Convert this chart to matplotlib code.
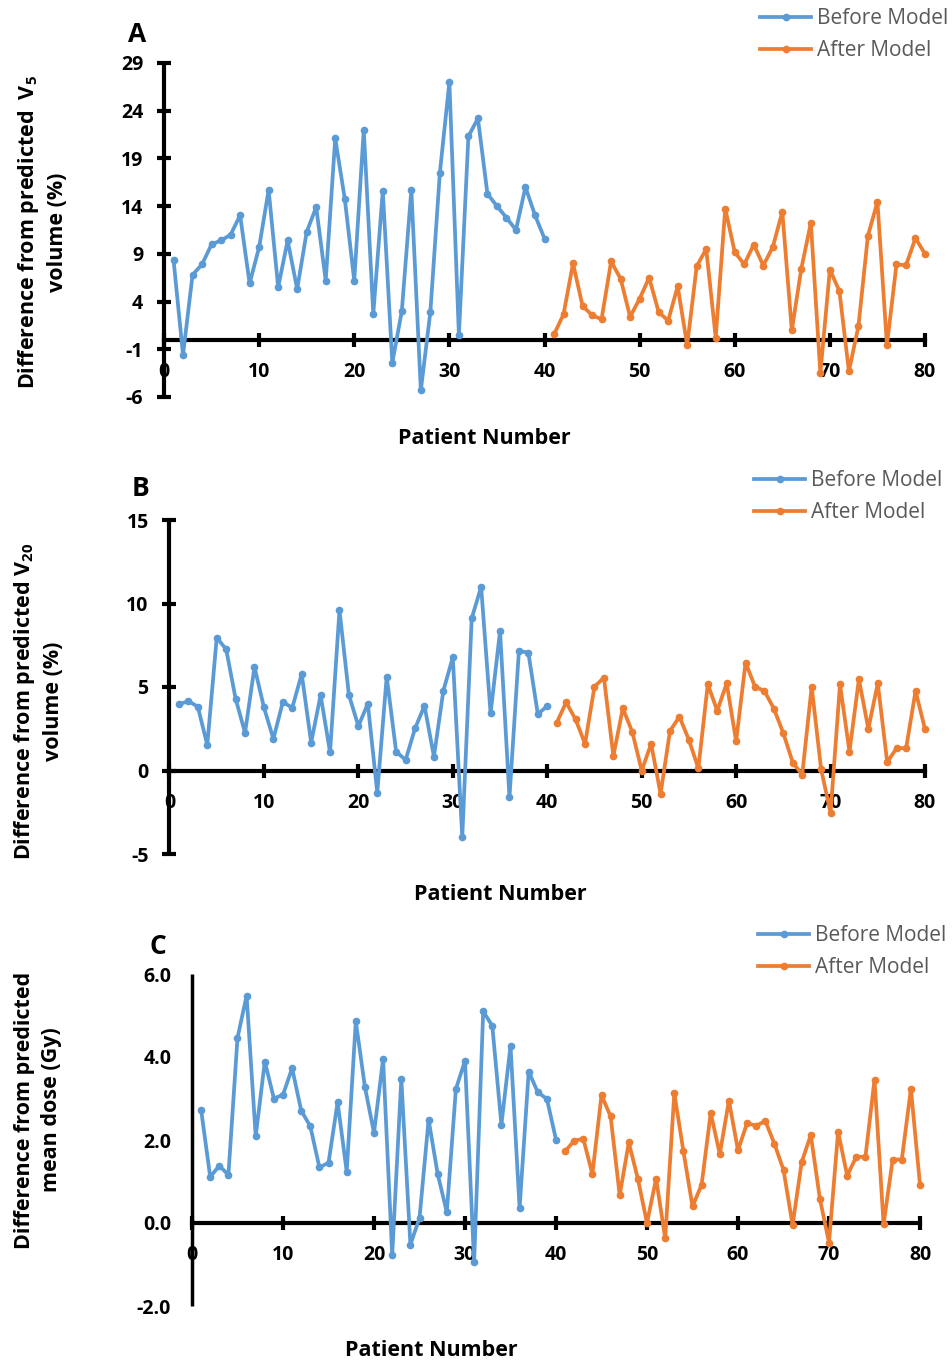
import matplotlib
matplotlib.use("Agg")
import matplotlib.pyplot as plt
from matplotlib.lines import Line2D

plt.rcParams["font.family"] = ["Open Sans", "DejaVu Sans"]
plt.rcParams["axes.unicode_minus"] = False
plt.rcParams["mathtext.fontset"] = "custom"
plt.rcParams["mathtext.rm"] = "Open Sans:bold"
plt.rcParams["mathtext.it"] = "Open Sans:bold"
plt.rcParams["mathtext.bf"] = "Open Sans:bold"

# Patient numbers
before_x = list(range(1, 41))
after_x = list(range(41, 81))

# Panel A: difference from predicted V5 volume (%)
v5_before = [8.4, -1.6, 6.8, 7.9, 10.0, 10.4, 11.0, 13.05, 5.9, 9.7,
             15.7, 5.5, 10.4, 5.3, 11.3, 13.9, 6.2, 21.1, 14.8, 6.2,
             22.0, 2.7, 15.6, -2.4, 3.0, 15.7, -5.3, 2.9, 17.5, 27.0,
             0.47, 21.3, 23.2, 15.3, 14.0, 12.8, 11.5, 16.0, 13.05, 10.6]
v5_after = [0.55, 2.67, 8.0, 3.55, 2.57, 2.15, 8.2, 6.4, 2.4, 4.3,
            6.5, 2.9, 2.0, 5.6, -0.58, 7.7, 9.5, 0.23, 13.75, 9.17,
            7.9, 9.98, 7.77, 9.73, 13.4, 1.0, 7.46, 12.25, -3.5, 7.35,
            5.1, -3.3, 1.4, 10.9, 14.45, -0.58, 7.9, 7.8, 10.65, 9.0]

# Panel B: difference from predicted V20 volume (%)
v20_before = [3.96, 4.16, 3.82, 1.53, 7.95, 7.26, 4.3, 2.26, 6.2, 3.78,
              1.89, 4.1, 3.76, 5.78, 1.67, 4.52, 1.09, 9.6, 4.52, 2.66,
              4.0, -1.33, 5.62, 1.13, 0.63, 2.52, 3.88, 0.83, 4.78, 6.78,
              -4.0, 9.11, 11.0, 3.42, 8.35, -1.6, 7.17, 7.05, 3.38, 3.86]
v20_after = [2.86, 4.08, 3.06, 1.6, 5.02, 5.56, 0.87, 3.72, 2.32, 0.0,
             1.59, -1.39, 2.37, 3.22, 1.83, 0.13, 5.16, 3.58, 5.22, 1.75,
             6.46, 5.02, 4.76, 3.7, 2.23, 0.47, -0.25, 5.02, 0.07, -2.53,
             5.16, 1.13, 5.46, 2.5, 5.22, 0.49, 1.35, 1.33, 4.76, 2.48]

# Panel C: difference from predicted mean dose (Gy)
md_before = [2.73, 1.11, 1.38, 1.16, 4.46, 5.48, 2.09, 3.89, 3.0, 3.09,
             3.73, 2.71, 2.33, 1.34, 1.45, 2.91, 1.24, 4.86, 3.28, 2.17,
             3.95, -0.77, 3.47, -0.52, 0.12, 2.49, 1.18, 0.26, 3.23, 3.91,
             -0.95, 5.1, 4.75, 2.37, 4.27, 0.36, 3.65, 3.15, 2.99, 2.01]
md_after = [1.73, 1.98, 2.03, 1.18, 3.08, 2.57, 0.67, 1.94, 1.06, 0.0,
            1.07, -0.37, 3.13, 1.73, 0.4, 0.92, 2.65, 1.66, 2.95, 1.75,
            2.41, 2.34, 2.46, 1.91, 1.28, -0.05, 1.47, 2.12, 0.58, -0.47,
            2.2, 1.14, 1.6, 1.59, 3.45, -0.03, 1.53, 1.53, 3.23, 0.92]

x_ticks = [0, 10, 20, 30, 40, 50, 60, 70, 80]
yticks_a = [-6, -1, 4, 9, 14, 19, 24, 29]
yticks_b = [-5, 0, 5, 10, 15]
yticks_c = [-2.0, 0.0, 2.0, 4.0, 6.0]
ytick_labels_c = ["-2.0", "0.0", "2.0", "4.0", "6.0"]

BLUE = "#5B9BD5"
ORANGE = "#ED7D31"
LEGEND_GRAY = "#595959"

TICK_FS = 14
LABEL_FS = 15.5
LETTER_FS = 19
LEGEND_FS = 15

W, H = 953, 1362
fig = plt.figure(figsize=(W / 100, H / 100), dpi=100)


def px_axes(left, right, top, bottom):
    return fig.add_axes([left / W, 1 - bottom / H, (right - left) / W, (bottom - top) / H])


def style_axes(ax, ylim, yticks, yticklabels=None, yticks_marks=True, left_lw=3.0):
    ax.set_xlim(0, 80)
    ax.set_ylim(*ylim)
    for s in ("top", "right"):
        ax.spines[s].set_visible(False)
    ax.spines["bottom"].set_position(("data", 0))
    ax.spines["bottom"].set_linewidth(3.0)
    ax.spines["left"].set_linewidth(left_lw)
    ax.spines["left"].set_capstyle("butt")
    ax.set_xticks(x_ticks)
    ax.set_xticklabels([str(t) for t in x_ticks])
    ax.set_yticks(yticks)
    if yticklabels is not None:
        ax.set_yticklabels(yticklabels)
    ax.tick_params(axis="x", direction="inout", length=10, width=3.0,
                   pad=11, labelsize=TICK_FS)
    ax.tick_params(axis="y", direction="inout", length=10 if yticks_marks else 0,
                   width=3.0, pad=10 if yticks_marks else 15, labelsize=TICK_FS)
    for lab in ax.get_xticklabels() + ax.get_yticklabels():
        lab.set_fontweight("bold")
    ax.patch.set_visible(False)


def plot_series(ax, yb, ya):
    ax.plot(before_x, yb, color=BLUE, lw=2.7, marker="o", ms=4.5, clip_on=False, zorder=3)
    ax.plot(after_x, ya, color=ORANGE, lw=2.7, marker="o", ms=4.5, clip_on=False, zorder=3)


def add_legend(x_px, y_px):
    handles = [Line2D([], [], color=BLUE, lw=2.7, marker="o", ms=4.5),
               Line2D([], [], color=ORANGE, lw=2.7, marker="o", ms=4.5)]
    leg = fig.legend(handles, ["Before Model", "After Model"], loc="upper left",
                     bbox_to_anchor=(x_px / W, 1 - y_px / H), frameon=False,
                     fontsize=LEGEND_FS, handlelength=2.45, handletextpad=0.3,
                     labelspacing=0.55, borderpad=0, borderaxespad=0,
                     labelcolor=LEGEND_GRAY)
    return leg


def panel_text(x, y, s, size, **kw):
    fig.text(x / W, 1 - y / H, s, fontsize=size, fontweight="bold",
             ha="center", va="center", **kw)


# ---- Panel A ----
axA = px_axes(164, 925, 63, 397)
style_axes(axA, (-6, 29), yticks_a)
plot_series(axA, v5_before, v5_after)
panel_text(137, 35, "A", LETTER_FS)
panel_text(42, 232, "Difference from predicted  V$_{5}$\nvolume (%)", LABEL_FS,
           rotation=90, multialignment="center", linespacing=1.35)
panel_text(484, 438, "Patient Number", LABEL_FS)
add_legend(760, 8)

# ---- Panel B ----
axB = px_axes(169.5, 925, 520, 854)
style_axes(axB, (-5, 15), yticks_b)
plot_series(axB, v20_before, v20_after)
panel_text(141, 489, "B", LETTER_FS)
panel_text(38, 701, "Difference from predicted V$_{20}$\nvolume (%)", LABEL_FS,
           rotation=90, multialignment="center", linespacing=1.35)
panel_text(500, 894, "Patient Number", LABEL_FS)
add_legend(754, 470)

# ---- Panel C ----
axC = px_axes(192, 920, 974, 1306)
style_axes(axC, (-2, 6), yticks_c, ytick_labels_c, yticks_marks=False, left_lw=2.5)
plot_series(axC, md_before, md_after)
panel_text(158, 946, "C", LETTER_FS)
panel_text(38, 1110, "Difference from predicted\nmean dose (Gy)", LABEL_FS,
           rotation=90, multialignment="center", linespacing=1.35)
panel_text(431, 1350, "Patient Number", LABEL_FS)
add_legend(758, 925)

fig.savefig("out.png", dpi=100)
